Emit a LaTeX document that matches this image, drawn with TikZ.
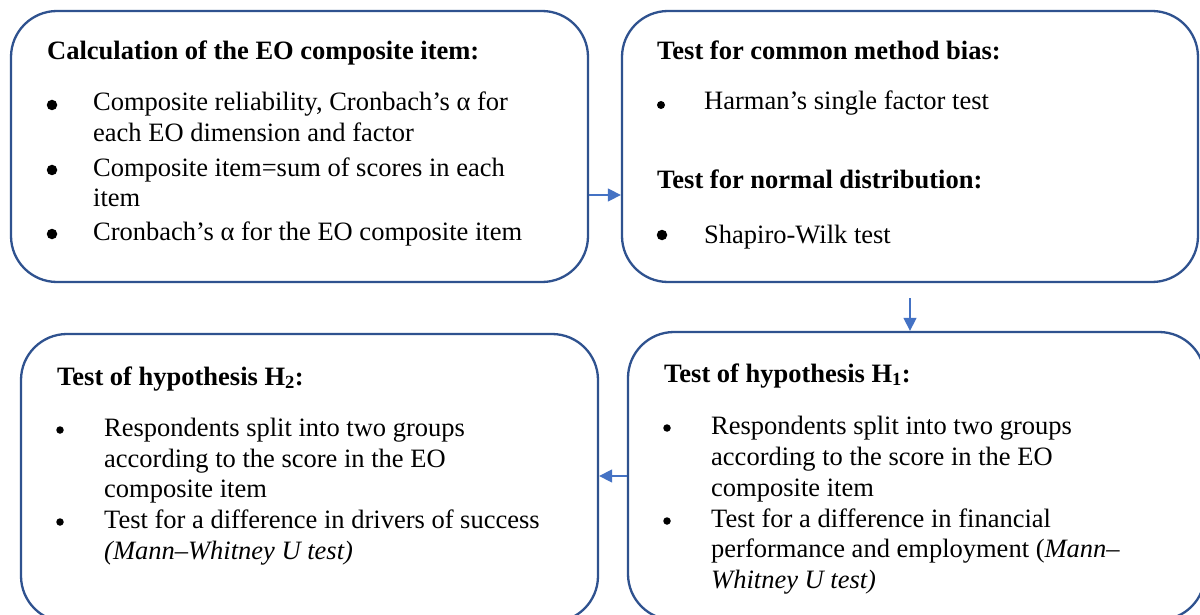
\documentclass[tikz,border=0pt]{standalone}
\usepackage{fontspec}
\setmainfont{Liberation Serif}
\usetikzlibrary{arrows.meta}
\definecolor{boxblue}{HTML}{2F528F}
\definecolor{arrblue}{HTML}{4472C4}
\tikzset{
  box/.style={draw=boxblue, line width=2.3pt, rounded corners=46pt, inner sep=0pt, fill=white},
  txt/.style={anchor=base west, inner sep=0pt, font=\fontsize{26.5}{31}\selectfont},
  ttl/.style={txt, font=\fontsize{26.5}{31}\selectfont\bfseries},
  bigb/.style={circle, fill=black, inner sep=0pt, minimum size=10.5pt},
  smallb/.style={circle, fill=black, inner sep=0pt, minimum size=7.5pt},
  arr/.style={draw=arrblue, line width=1.4pt, -{Triangle[length=13pt,width=13pt]}, arrblue},
}
\begin{document}
\begin{tikzpicture}[x=1pt,y=-1pt]
\useasboundingbox (0,0) rectangle (1200,615);
\clip (0,0) rectangle (1200,615);
\fill[white] (0,0) rectangle (1200,615);
% boxes
\node[box, minimum width=577pt, minimum height=271pt] (b1) at (299.5,146.5) {};
\node[box, minimum width=576pt, minimum height=271pt] (b2) at (910,146.5) {};
\node[box, minimum width=577pt, minimum height=288pt] (b3) at (309.5,478) {};
\node[box, minimum width=577pt, minimum height=288pt] (b4) at (916.5,476) {};
% box 1
\node[ttl] (t1) at (47,60) {Calculation of the EO composite item:};
\node[bigb] (b1p1) at (52,105) {};
\node[txt] (b1l1) at (93,111) {Composite reliability, Cronbach’s α for};
\node[txt] (b1l2) at (93,142) {each EO dimension and factor};
\node[bigb] (b1p2) at (52,170) {};
\node[txt] (b1l3) at (93,176) {Composite item=sum of scores in each};
\node[txt] (b1l4) at (93,207) {item};
\node[bigb] (b1p3) at (52,234) {};
\node[txt] (b1l5) at (93,240) {Cronbach’s α for the EO composite item};
% box 2
\node[ttl] (t2) at (657,60) {Test for common method bias:};
\node[smallb, minimum size=8pt] (b2p1) at (661,105) {};
\node[txt] (b2l1) at (704,110) {Harman’s single factor test};
\node[ttl] (t3) at (657,189) {Test for normal distribution:};
\node[bigb] (b2p2) at (662,235) {};
\node[txt] (b2l2) at (704,243) {Shapiro-Wilk test};
% box 3 (H2)
\node[ttl] (t4) at (57,385) {Test of hypothesis H\textsubscript{2}:};
\node[smallb] (b3p1) at (60,430) {};
\node[txt] (b3l1) at (104,436) {Respondents split into two groups};
\node[txt] (b3l2) at (104,467) {according to the score in the EO};
\node[txt] (b3l3) at (104,497) {composite item};
\node[smallb] (b3p2) at (60,522) {};
\node[txt] (b3l4) at (104,528) {Test for a difference in drivers of success};
\node[txt] (b3l5) at (104,559) {\itshape (Mann–Whitney U test)};
% box 4 (H1)
\node[ttl] (t5) at (664,382) {Test of hypothesis H\textsubscript{1}:};
\node[smallb] (b4p1) at (667,428) {};
\node[txt] (b4l1) at (711,434) {Respondents split into two groups};
\node[txt] (b4l2) at (711,465) {according to the score in the EO};
\node[txt] (b4l3) at (711,496) {composite item};
\node[smallb] (b4p2) at (667,521) {};
\node[txt] (b4l4) at (711,527) {Test for a difference in financial};
\node[txt] (b4l5) at (711,557) {performance and employment (\textit{Mann–}};
\node[txt] (b4l6) at (711,588) {\itshape Whitney U test)};
% connectors
\draw[arr] ([yshift=-48.5pt]b1.east) -- ([yshift=-48.5pt]b2.west);
\draw[arr] ([yshift=-15pt]b2.south) -- (b4.north -| b2.south);
\draw[arr] (b4.west) -- (b3.east |- b4.west);
\end{tikzpicture}
\end{document}
